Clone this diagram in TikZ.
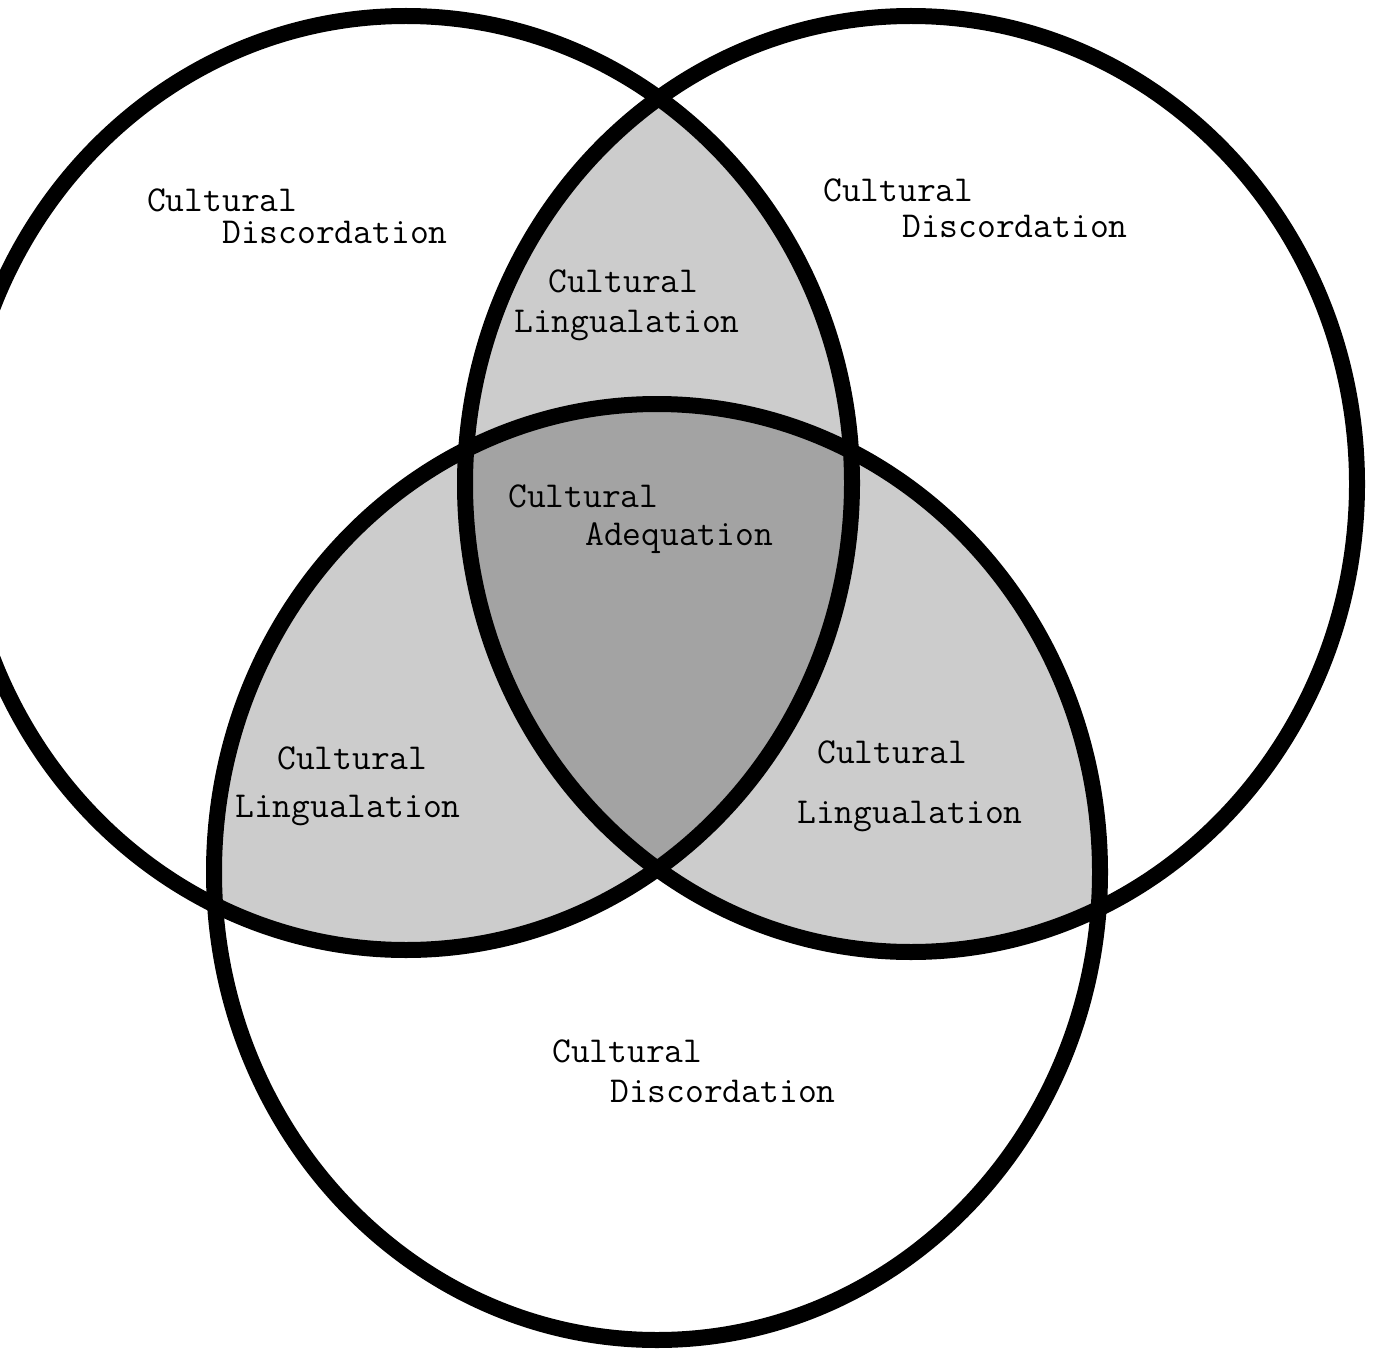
\documentclass[tikz,border=0pt]{standalone}
\usepackage{fontspec}

% the three sets
\newcommand{\setA}{(406,483) ellipse [x radius=446pt, y radius=467pt]}
\newcommand{\setB}{(911,484) ellipse [x radius=446pt, y radius=468pt]}
\newcommand{\setC}{(657,872) ellipse [x radius=443pt, y radius=468pt]}

\tikzset{
  ring/.style={draw=black, line width=16pt},
  pairzone/.style={fill=black!20},
  corezone/.style={fill=black!36},
  word/.style={anchor=base west, inner sep=0pt,
    font=\ttfamily\fontsize{36.5}{42}\selectfont}
}

\begin{document}
\begin{tikzpicture}[x=1pt, y=-1pt]
  \useasboundingbox (0,0) rectangle (1373,1356);
  \fill[white] (0,0) rectangle (1373,1356);
  \clip (0,0) rectangle (1373,1356);

  % Shaded overlaps
  \begin{scope}
    \clip \setA;
    \fill[pairzone] \setB;
    \fill[pairzone] \setC;
  \end{scope}
  \begin{scope}
    \clip \setB;
    \fill[pairzone] \setC;
  \end{scope}
  \begin{scope}
    \clip \setA;
    \clip \setB;
    \fill[corezone] \setC;
  \end{scope}

  % Circles
  \draw[ring] \setA;
  \draw[ring] \setB;
  \draw[ring] \setC;

  % Labels
  \node[word] (discA1) at (147,212) {Cultural};
  \node[word] (discA2) at (222,244) {Discordation};
  \node[word] (discB1) at (823,202) {Cultural};
  \node[word] (discB2) at (902,238) {Discordation};
  \node[word] (discC1) at (552,1062) {Cultural};
  \node[word] (discC2) at (610,1102) {Discordation};

  \node[word] (lingAB1) at (548,293) {Cultural};
  \node[word] (lingAB2) at (514,332) {Lingualation};
  \node[word] (lingAC1) at (277,769) {Cultural};
  \node[word] (lingAC2) at (235,817) {Lingualation};
  \node[word] (lingBC1) at (817,763) {Cultural};
  \node[word] (lingBC2) at (797,823) {Lingualation};

  \node[word] (adeq1) at (508,507) {Cultural};
  \node[word] (adeq2) at (585,545) {Adequation};
\end{tikzpicture}
\end{document}
